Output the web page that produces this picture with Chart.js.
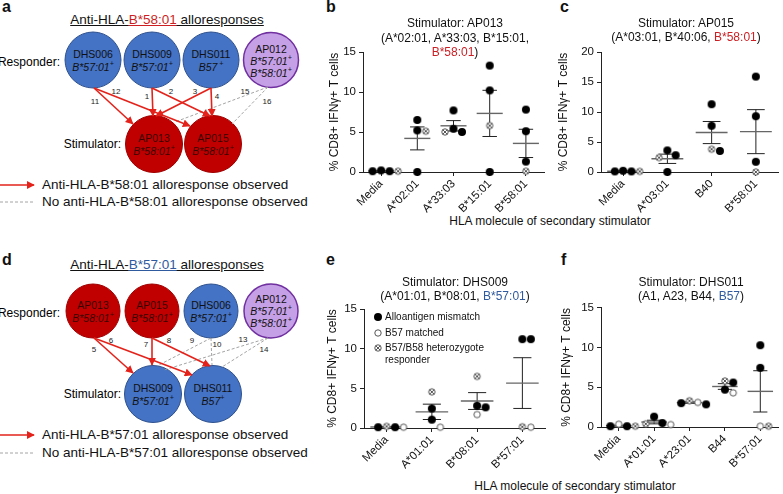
<!DOCTYPE html>
<html lang="en">
<head>
<meta charset="UTF-8" />
<title>Anti-HLA-B*58:01 and B*57:01 alloresponses</title>
<script src="https://cdn.jsdelivr.net/npm/chart.js"></script>
<style>
  body { margin: 0; background: #fff; font-family: "Liberation Sans", Arial, sans-serif; color: #111; }
  #page { position: relative; width: 783px; height: 494px; overflow: hidden; }
  #page canvas { position: absolute; }
  .letter { position: absolute; font-weight: bold; font-size: 16px; line-height: 16px; }
  .ttl { position: absolute; font-size: 12px; line-height: 14px; text-align: center; white-space: nowrap; transform: translateX(-50%); z-index: 2; }
  .cap { position: absolute; font-size: 12px; line-height: 14px; white-space: nowrap; transform: translateX(-50%); }
  .dtitle { position: absolute; font-size: 13.5px; line-height: 14px; white-space: nowrap; transform: translateX(-50%); text-decoration: underline; }
  .dleg { position: absolute; left: 42px; font-size: 13.5px; line-height: 16px; white-space: nowrap; }
  .red { color: #cc1f24; }
  .blue { color: #2f5a9e; }
  .dtitle .red, .dtitle .blue { text-decoration: underline; }
  .leg { position: absolute; left: 385px; font-size: 10px; line-height: 12px; white-space: nowrap; z-index: 2; }
  .leg svg { position: absolute; left: -12px; top: 1px; }
  svg text { font-family: "Liberation Sans", Arial, sans-serif; }
</style>
</head>
<body>
<div id="page">

  <!-- schematic panels a and d -->
  <svg width="330" height="494" style="position:absolute;left:0;top:0">
    <defs>
      <marker id="head" viewBox="0 0 10 10" refX="9" refY="5" markerWidth="5" markerHeight="5" orient="auto">
        <path d="M0,0 L10,5 L0,10 z" fill="#e3231b"/>
      </marker>
    </defs>

    <!-- a -->
    <circle cx="93" cy="60" r="28" fill="#4472c4" stroke="#2f528f"/>
    <circle cx="152" cy="60" r="28" fill="#4472c4" stroke="#2f528f"/>
    <circle cx="211" cy="60" r="28" fill="#4472c4" stroke="#2f528f"/>
    <circle cx="271" cy="60" r="27.5" fill="#c6a0e6" stroke="#7030a0" stroke-width="1.5"/>
    <circle cx="154" cy="144" r="28.5" fill="#c00000" stroke="#a00000"/>
    <circle cx="213" cy="144" r="28.5" fill="#c00000" stroke="#a00000"/>

    <g stroke="#9a9a9a" stroke-width="0.9" stroke-dasharray="3,2">
      <line x1="268" y1="87" x2="175" y2="122"/>
      <line x1="268" y1="87" x2="232" y2="124"/>
    </g>
    <g stroke="#e3231b" stroke-width="1.6" marker-end="url(#head)">
      <line x1="94" y1="88" x2="133" y2="124"/>
      <line x1="94" y1="88" x2="190" y2="126"/>
      <line x1="152" y1="88" x2="153" y2="116"/>
      <line x1="152" y1="88" x2="210" y2="116"/>
      <line x1="211" y1="88" x2="156" y2="116"/>
      <line x1="211" y1="88" x2="212" y2="116"/>
    </g>
    <g font-size="8" text-anchor="middle" dominant-baseline="central" fill="#222">
      <text x="95" y="101">11</text><text x="116" y="91">12</text>
      <text x="147" y="96">1</text><text x="171" y="91">2</text>
      <text x="195" y="91">3</text><text x="217" y="96">4</text>
      <text x="245" y="91">15</text><text x="267" y="101">16</text>
    </g>

    <g font-size="10.5" text-anchor="middle" dominant-baseline="central" fill="#111">
      <text x="93" y="54">DHS006</text>
      <text x="93" y="67" font-style="italic">B*57:01<tspan font-size="7" baseline-shift="super">+</tspan></text>
      <text x="152" y="54">DHS009</text>
      <text x="152" y="67" font-style="italic">B*57:01<tspan font-size="7" baseline-shift="super">+</tspan></text>
      <text x="211" y="54">DHS011</text>
      <text x="211" y="67" font-style="italic">B57<tspan font-size="7" baseline-shift="super"> +</tspan></text>
      <text x="271" y="49">AP012</text>
      <text x="271" y="61" font-style="italic">B*57:01<tspan font-size="7" baseline-shift="super">+</tspan></text>
      <text x="271" y="73" font-style="italic">B*58:01<tspan font-size="7" baseline-shift="super">+</tspan></text>
      <g fill="#3a0000">
        <text x="154" y="138">AP013</text>
        <text x="154" y="151" font-style="italic">B*58:01<tspan font-size="7" baseline-shift="super">+</tspan></text>
        <text x="213" y="138">AP015</text>
        <text x="213" y="151" font-style="italic">B*58:01<tspan font-size="7" baseline-shift="super">+</tspan></text>
      </g>
    </g>
    <g font-size="12" text-anchor="end" dominant-baseline="central">
      <text x="60" y="62">Responder:</text>
      <text x="121" y="144">Stimulator:</text>
    </g>
    <line x1="0" y1="185" x2="34" y2="185" stroke="#e3231b" stroke-width="1.6" marker-end="url(#head)"/>
    <line x1="0" y1="202" x2="35" y2="202" stroke="#9a9a9a" stroke-width="0.9" stroke-dasharray="3,2"/>

    <!-- d -->
    <circle cx="93" cy="311" r="27" fill="#c00000" stroke="#a00000"/>
    <circle cx="152" cy="311" r="27" fill="#c00000" stroke="#a00000"/>
    <circle cx="211" cy="311" r="27" fill="#4472c4" stroke="#2f528f"/>
    <circle cx="271" cy="311" r="27" fill="#c6a0e6" stroke="#7030a0" stroke-width="1.5"/>
    <circle cx="153" cy="394" r="28.5" fill="#4472c4" stroke="#2f528f"/>
    <circle cx="213" cy="394" r="28.5" fill="#4472c4" stroke="#2f528f"/>

    <g stroke="#9a9a9a" stroke-width="0.9" stroke-dasharray="3,2">
      <line x1="211" y1="338" x2="157" y2="366"/>
      <line x1="211" y1="338" x2="212" y2="365"/>
      <line x1="268" y1="338" x2="164" y2="370"/>
      <line x1="268" y1="338" x2="222" y2="367"/>
    </g>
    <g stroke="#e3231b" stroke-width="1.6" marker-end="url(#head)">
      <line x1="94" y1="338" x2="133" y2="373"/>
      <line x1="94" y1="338" x2="192" y2="375"/>
      <line x1="152" y1="338" x2="152" y2="365"/>
      <line x1="152" y1="338" x2="210" y2="366"/>
    </g>
    <g font-size="8" text-anchor="middle" dominant-baseline="central" fill="#222">
      <text x="94" y="349">5</text><text x="111" y="340">6</text>
      <text x="146" y="344">7</text><text x="169" y="340">8</text>
      <text x="192" y="340">9</text><text x="217" y="344">10</text>
      <text x="243" y="339">13</text><text x="264" y="349">14</text>
    </g>
    <g font-size="10.5" text-anchor="middle" dominant-baseline="central" fill="#111">
      <g fill="#3a0000">
        <text x="93" y="305">AP013</text>
        <text x="93" y="318" font-style="italic">B*58:01<tspan font-size="7" baseline-shift="super">+</tspan></text>
        <text x="152" y="305">AP015</text>
        <text x="152" y="318" font-style="italic">B*58:01<tspan font-size="7" baseline-shift="super">+</tspan></text>
      </g>
      <text x="211" y="305">DHS006</text>
      <text x="211" y="318" font-style="italic">B*57:01<tspan font-size="7" baseline-shift="super">+</tspan></text>
      <text x="271" y="299">AP012</text>
      <text x="271" y="311" font-style="italic">B*57:01<tspan font-size="7" baseline-shift="super">+</tspan></text>
      <text x="271" y="323" font-style="italic">B*58:01<tspan font-size="7" baseline-shift="super">+</tspan></text>
      <text x="153" y="388">DHS009</text>
      <text x="153" y="401" font-style="italic">B*57:01<tspan font-size="7" baseline-shift="super">+</tspan></text>
      <text x="213" y="388">DHS011</text>
      <text x="213" y="401" font-style="italic">B57<tspan font-size="7" baseline-shift="super">+</tspan></text>
    </g>
    <g font-size="12" text-anchor="end" dominant-baseline="central">
      <text x="60" y="313">Responder:</text>
      <text x="121" y="394">Stimulator:</text>
    </g>
    <line x1="0" y1="435" x2="34" y2="435" stroke="#e3231b" stroke-width="1.6" marker-end="url(#head)"/>
    <line x1="0" y1="453" x2="35" y2="453" stroke="#9a9a9a" stroke-width="0.9" stroke-dasharray="3,2"/>
  </svg>

  <div class="dtitle" style="left:167px;top:13px">Anti-HLA-<span class="red">B*58:01</span> alloresponses</div>
  <div class="dleg" style="top:177px">Anti-HLA-B*58:01 alloresponse observed</div>
  <div class="dleg" style="top:194px">No anti-HLA-B*58:01 alloresponse observed</div>
  <div class="dtitle" style="left:167px;top:258px">Anti-HLA-<span class="blue">B*57:01</span> alloresponses</div>
  <div class="dleg" style="top:427px">Anti-HLA-B*57:01 alloresponse observed</div>
  <div class="dleg" style="top:445px">No anti-HLA-B*57:01 alloresponse observed</div>

  <div class="letter" style="left:2px;top:-1px">a</div>
  <div class="letter" style="left:326px;top:-1px">b</div>
  <div class="letter" style="left:560px;top:-1px">c</div>
  <div class="letter" style="left:2px;top:252px">d</div>
  <div class="letter" style="left:326px;top:252px">e</div>
  <div class="letter" style="left:561px;top:252px">f</div>

  <div class="ttl" style="left:455px;top:16px;line-height:14.5px">Stimulator: AP013<br>(A*02:01, A*33:03, B*15:01,<br><span class="red">B*58:01</span>)</div>
  <div class="ttl" style="left:686px;top:16px">Stimulator: AP015<br>(A*03:01, B*40:06, <span class="red">B*58:01</span>)</div>
  <div class="ttl" style="left:455px;top:275px">Stimulator: DHS009<br>(A*01:01, B*08:01, <span class="blue">B*57:01</span>)</div>
  <div class="ttl" style="left:691px;top:275px">Stimulator: DHS011<br>(A1, A23, B44, <span class="blue">B57</span>)</div>

  <div class="cap" style="left:550px;top:214px">HLA molecule of secondary stimulator</div>
  <div class="cap" style="left:575px;top:479px">HLA molecule of secondary stimulator</div>

  <div class="leg" style="top:311px"><svg width="10" height="10"><circle cx="5" cy="5" r="4" fill="#000"/></svg>Alloantigen mismatch</div>
  <div class="leg" style="top:327px"><svg width="10" height="10"><circle cx="5" cy="5" r="3.2" fill="#fff" stroke="#444" stroke-width="0.9"/></svg>B57 matched</div>
  <div class="leg" style="top:342px"><svg width="10" height="10"><circle cx="5" cy="5" r="3.2" fill="#fff" stroke="#444" stroke-width="0.9"/><path d="M2.8,2.8L7.2,7.2M7.2,2.8L2.8,7.2" stroke="#444" stroke-width="0.9"/></svg>B57/B58 heterozygote<br>responder</div>

  <canvas id="chartB" width="228" height="190" style="left:322px;top:40px"></canvas>
  <canvas id="chartC" width="227" height="190" style="left:556px;top:40px"></canvas>
  <canvas id="chartE" width="228" height="180" style="left:322px;top:298px"></canvas>
  <canvas id="chartF" width="227" height="180" style="left:556px;top:298px"></canvas>
</div>

<script>
  Chart.defaults.font.family = '"Liberation Sans", Arial, sans-serif';
  Chart.defaults.color = '#111';

  // responders in the order the values are listed for every stimulator
  const b58Responders = ['DHS006', 'DHS009', 'DHS011', 'AP012'];
  const b58Groups = ['mismatch', 'mismatch', 'mismatch', 'heterozygote'];
  const b57Responders = ['AP013', 'AP015', 'DHS006', 'AP012'];
  const b57Groups = ['mismatch', 'mismatch', 'matched', 'heterozygote'];

  // b: stimulator AP013
  const bCategories = ['Media', 'A*02:01', 'A*33:03', 'B*15:01', 'B*58:01'];
  const bValues = [
    [0.1, 0.1, 0.2, 0.1],
    [6.5, 5.2, 0, 5.1],
    [7.7, 5.4, 5.0, 5.0],
    [13.3, 10.2, 0, 5.8],
    [7.8, 5.1, 1.3, 0.1]
  ];
  const bYTicks = [0, 5, 10, 15];

  // c: stimulator AP015
  const cCategories = ['Media', 'A*03:01', 'B40', 'B*58:01'];
  const cValues = [
    [0.1, 0.1, 0.2, 0.1],
    [2.8, 3.6, 0, 2.4],
    [11.3, 7.7, 3.5, 3.8],
    [15.9, 9.3, 1.7, 0]
  ];
  const cYTicks = [0, 5, 10, 15, 20];

  // e: stimulator DHS009
  const eCategories = ['Media', 'A*01:01', 'B*08:01', 'B*57:01'];
  const eValues = [
    [0.1, 0.1, 0.1, 0.2],
    [2.45, 1.05, 0.1, 4.55],
    [2.8, 2.6, 1.7, 6.5],
    [11.2, 11.2, 0.1, 0.15]
  ];
  const eYTicks = [0, 5, 10, 15];

  // f: stimulator DHS011
  const fCategories = ['Media', 'A*01:01', 'A*23:01', 'B44', 'B*57:01'];
  const fValues = [
    [0.1, 0.1, 0.35, 0.1],
    [0.5, 1.3, 0.3, 0.4],
    [2.85, 3.0, 3.1, 3.3],
    [4.7, 5.6, 4.3, 5.8],
    [10.3, 7.45, 0.1, 0.1]
  ];
  const fYTicks = [0, 5, 10, 15];

  function makeMarker(kind) {
    const c = document.createElement('canvas');
    c.width = c.height = 10;
    const g = c.getContext('2d');
    g.beginPath();
    if (kind === 'mismatch') {
      g.arc(5, 5, 4, 0, 2 * Math.PI);
      g.fillStyle = '#000';
      g.fill();
      return c;
    }
    g.arc(5, 5, 3.2, 0, 2 * Math.PI);
    g.fillStyle = '#fff';
    g.fill();
    g.lineWidth = 0.9;
    g.strokeStyle = '#444';
    g.stroke();
    if (kind === 'heterozygote') {
      g.beginPath();
      g.moveTo(2.8, 2.8); g.lineTo(7.2, 7.2);
      g.moveTo(7.2, 2.8); g.lineTo(2.8, 7.2);
      g.stroke();
    }
    return c;
  }
  const markers = {
    mismatch: makeMarker('mismatch'),
    matched: makeMarker('matched'),
    heterozygote: makeMarker('heterozygote')
  };

  // spread points sideways (in px) so that markers in one column don't overlap
  function swarm(vals, pxPerUnit) {
    const gap = 8.5;
    const placed = [];
    const offs = vals.map(() => 0);
    const order = vals.map((v, i) => i).sort((a, b) => vals[b] - vals[a]);
    order.forEach(i => {
      const py = vals[i] * pxPerUnit;
      for (let k = 0; k < 12; k++) {
        const cand = (k % 2 ? 1 : -1) * Math.ceil(k / 2) * gap;
        if (placed.every(p => Math.hypot(p.x - cand, p.y - py) >= gap)) {
          offs[i] = cand;
          placed.push({ x: cand, y: py });
          break;
        }
      }
    });
    return offs;
  }

  // mean line and SEM error bar per column
  function meanSem(values) {
    return {
      id: 'meanSem',
      beforeDatasetsDraw(chart) {
        const { ctx, scales: { x, y } } = chart;
        values.forEach((vals, i) => {
          const n = vals.length;
          const mean = vals.reduce((a, b) => a + b, 0) / n;
          const sd = Math.sqrt(vals.reduce((a, v) => a + (v - mean) ** 2, 0) / (n - 1));
          const sem = sd / Math.sqrt(n);
          const yM = y.getPixelForValue(mean);
          const yT = y.getPixelForValue(mean + sem);
          const yB = y.getPixelForValue(Math.max(mean - sem, 0));
          ctx.save();
          ctx.strokeStyle = '#222';
          ctx.lineWidth = 1;
          ctx.beginPath();
          ctx.moveTo(x.getPixelForValue(i), yT);
          ctx.lineTo(x.getPixelForValue(i), yB);
          ctx.moveTo(x.getPixelForValue(i - 0.2), yT);
          ctx.lineTo(x.getPixelForValue(i + 0.2), yT);
          ctx.moveTo(x.getPixelForValue(i - 0.2), yB);
          ctx.lineTo(x.getPixelForValue(i + 0.2), yB);
          ctx.stroke();
          ctx.strokeStyle = '#666';
          ctx.lineWidth = 1.4;
          ctx.beginPath();
          ctx.moveTo(x.getPixelForValue(i - 0.36), yM);
          ctx.lineTo(x.getPixelForValue(i + 0.36), yM);
          ctx.stroke();
          ctx.restore();
        });
      }
    };
  }

  // box = canvas position on the page, area = wanted plot area on the page
  function scatterPanel(id, box, area, titleX, categories, values, groups, yTicks) {
    const yMax = yTicks[yTicks.length - 1];
    const pxPerUnit = (area.bottom - area.top) / yMax;
    const catPx = (area.right - area.left) / categories.length;
    const sets = {};
    values.forEach((vals, i) => {
      const offs = swarm(vals, pxPerUnit);
      vals.forEach((v, j) => {
        const g = groups[j];
        (sets[g] = sets[g] || []).push({ x: i + offs[j] / catPx, y: v });
      });
    });
    const datasets = Object.keys(sets).map(g => ({
      label: g,
      data: sets[g],
      pointStyle: markers[g],
      pointRadius: 4,
      clip: false
    }));

    const grid = { drawOnChartArea: false, drawTicks: true, tickLength: 4, color: '#222', lineWidth: 1 };
    const border = { color: '#222', width: 1 };

    new Chart(document.getElementById(id), {
      type: 'scatter',
      data: { datasets },
      options: {
        responsive: false,
        animation: false,
        events: [],
        layout: {
          padding: { top: area.top - box.top, right: box.left + box.width - area.right, left: 0, bottom: 0 }
        },
        plugins: { legend: { display: false }, tooltip: { enabled: false } },
        scales: {
          x: {
            type: 'linear',
            min: -0.5,
            max: categories.length - 0.5,
            afterBuildTicks: s => { s.ticks = categories.map((c, i) => ({ value: i })); },
            afterFit: s => { s.height = box.top + box.height - area.bottom; },
            grid, border,
            ticks: {
              autoSkip: false, minRotation: 45, maxRotation: 45, padding: 1,
              font: { size: 11.5 },
              callback: v => categories[Math.round(v)]
            }
          },
          y: {
            min: 0,
            max: yMax,
            afterBuildTicks: s => { s.ticks = yTicks.map(v => ({ value: v })); },
            afterFit: s => { s.width = area.left - box.left; },
            grid, border,
            ticks: { padding: 3, font: { size: 11.5 } },
            title: {
              display: true,
              text: '% CD8+ IFNγ+ T cells',
              font: { size: 12 },
              padding: { top: titleX - box.left - 7.2, bottom: 0 }
            }
          }
        }
      },
      plugins: [meanSem(values)]
    });
  }

  scatterPanel('chartB', { left: 322, top: 40, width: 228, height: 190 },
    { left: 363, top: 52, right: 544, bottom: 172 }, 335, bCategories, bValues, b58Groups, bYTicks);
  scatterPanel('chartC', { left: 556, top: 40, width: 227, height: 190 },
    { left: 601, top: 52, right: 782, bottom: 172 }, 564, cCategories, cValues, b58Groups, cYTicks);
  scatterPanel('chartE', { left: 322, top: 298, width: 228, height: 180 },
    { left: 364, top: 309, right: 546, bottom: 428 }, 333, eCategories, eValues, b57Groups, eYTicks);
  scatterPanel('chartF', { left: 556, top: 298, width: 227, height: 180 },
    { left: 601, top: 307, right: 782, bottom: 427 }, 567, fCategories, fValues, b57Groups, fYTicks);
</script>
</body>
</html>
